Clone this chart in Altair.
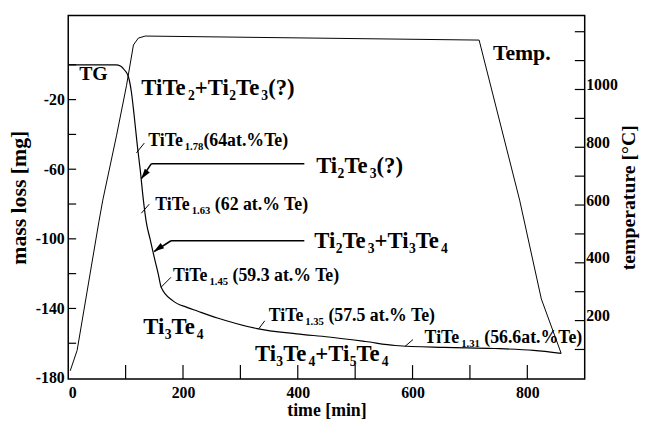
import re
import altair as alt
import pandas as pd

# ---------------- data ----------------
# TG curve: time [min] vs mass loss [mg]
tg_time = [0, 36, 83, 91, 98, 105, 110, 115, 120.5, 125.6, 131, 136, 143, 150, 157, 162,
           182, 208, 225, 260, 294, 329, 398, 454, 518, 570, 656, 742, 811, 859]
tg_mass = [0, 0, 0, -0.7, -3, -7, -15.5, -29.6, -46.7, -60.8, -77.9, -90.4, -100.6, -110.8,
           -120.4, -127.8, -135.5, -139.5, -141.5, -145.5, -148.8, -151.6, -154.6, -156.4, -159,
           -161.3, -162.4, -163, -164.1, -165.8]

# temperature programme: time [min] vs temperature [°C]
temp_time = [3.4, 15.5, 32.7, 53.4, 60.2, 84.3, 101.5, 113.6, 122.2, 134.3, 716, 786.6, 824.4, 858.9]
temp_val = [26, 97, 299, 542, 617, 842, 1013, 1154, 1178, 1185, 1171, 617, 275, 87]

# axis ticks / labels
x_labels = [0, 200, 400, 600, 800]
x_ticks = [100, 200, 300, 400, 500, 600, 700, 800]
m_labels = [-20, -60, -100, -140, -180]
m_ticks = [-160, -140, -120, -100, -80, -60, -40, -20, 0]
t_labels = [200, 400, 600, 800, 1000]
t_ticks = [100, 200, 300, 400, 500, 600, 700, 800, 900, 1000, 1100, 1200]

# annotations ({...} = subscript); anchor in (time, mass) data coordinates
ann_text = ["TG", "Temp.",
            "TiTe{2}+Ti{2}Te{3}(?)", "Ti{2}Te{3}(?)", "Ti{2}Te{3}+Ti{3}Te{4}",
            "Ti{3}Te{4}", "Ti{3}Te{4}+Ti{5}Te{4}",
            "TiTe{1.78}(64at.%Te)", "TiTe{1.63} (62 at.% Te)", "TiTe{1.45} (59.3 at.% Te)",
            "TiTe{1.35} (57.5 at.% Te)", "TiTe{1.31} (56.6at.%Te)"]
ann_time = [19, 740, 127.4, 432, 428.6, 130.8, 325.3, 139.4, 151.5, 182.4, 349.4, 621]
ann_mass = [-8.7, 2.7, -17.2, -62, -105.1, -154.5, -170.4, -46.7, -83.6, -124.4, -147.1, -160]
ann_size = [20, 22, 23, 23, 23, 23, 23, 18, 18, 18, 18, 18]

# pointer strokes (time, mass) -> (time2, mass2)
seg_t1 = [118.8, 127.4, 161.8, 332.2, 586.9, 411.4, 144.6, 411.4, 179.0]
seg_m1 = [-50.6, -85.3, -127.8, -151.6, -161.8, -56.9, -56.9, -101.1, -101.1]
seg_t2 = [132.5, 141.1, 179.0, 342.5, 600.7, 144.6, 127.4, 179.0, 149.7]
seg_m2 = [-45.0, -80.1, -122.1, -147.1, -157.9, -56.9, -65.4, -101.1, -107.4]
seg_w = [1, 1, 1, 1, 1, 1.6, 1.6, 1.6, 1.6]
# arrow heads
head_t = [132.5, 156.6]
head_m = [-63.2, -105.6]
head_angle = [216, 236]

# ---------------- styling ----------------
FONT = "Liberation Serif"
W, H = 523, 368

x_scale = alt.Scale(domain=[0, 900], nice=False, zero=False)
m_scale = alt.Scale(domain=[-180.5, 28.3], nice=False, zero=False)
t_scale = alt.Scale(domain=[-2, 1256], nice=False, zero=False)

common = dict(labelFont=FONT, labelFontWeight="bold", labelColor="black",
              titleFont=FONT, titleFontWeight="bold", titleColor="black",
              ticks=False, domain=False, grid=False, labelExpr="'' + datum.value")
x_axis = alt.Axis(values=x_labels, title="time [min]", labelFontSize=16, labelPadding=6,
                  titleFontSize=18, titlePadding=1, **common)
m_axis = alt.Axis(values=m_labels, title="mass loss [mg]", labelFontSize=16, labelPadding=4,
                  titleFontSize=22, titlePadding=5, **common)
t_axis = alt.Axis(values=t_labels, title="temperature [°C]", orient="right", labelFontSize=16,
                  labelPadding=1, labelOffset=-5, titleFontSize=20, titlePadding=1,
                  titleAngle=270, titleBaseline="top", **common)


def X(f):
    return alt.X(f"{f}:Q", scale=x_scale, axis=x_axis)


def YM(f):
    return alt.Y(f"{f}:Q", scale=m_scale, axis=m_axis)


def YT(f):
    return alt.Y(f"{f}:Q", scale=t_scale, axis=t_axis)


# Times-Bold advance widths (per 1000 em)
AFM = {' ': 250, '!': 333, '%': 1000, '(': 333, ')': 333, '+': 570, '-': 333, '.': 250,
       '?': 500, 'C': 722, 'G': 778, 'T': 667, 'a': 500, 'e': 444, 'i': 278, 't': 333,
       'm': 833, 'p': 556}


def text_w(s, size):
    return sum(AFM.get(c, 500) for c in s) * size / 1000.0


# ---------------- layers ----------------
mass_layers = []

tg_df = pd.DataFrame({"t": tg_time, "m": tg_mass})
mass_layers.append(alt.Chart(tg_df).mark_line(color="black", strokeWidth=1.2, interpolate="monotone")
                   .encode(x=X("t"), y=YM("m")))

seg_df = pd.DataFrame({"t": seg_t1, "m": seg_m1, "t2": seg_t2, "m2": seg_m2, "w": seg_w})
mass_layers.append(alt.Chart(seg_df).mark_rule(color="black").encode(
    x=X("t"), y=YM("m"), x2="t2:Q", y2="m2:Q",
    strokeWidth=alt.StrokeWidth("w:Q", scale=None)))

head_df = pd.DataFrame({"t": head_t, "m": head_m, "a": head_angle})
mass_layers.append(alt.Chart(head_df).mark_point(
    shape="M0,-1L0.6,1L-0.6,1Z", filled=True, color="black", size=110, opacity=1).encode(
    x=X("t"), y=YM("m"), angle=alt.Angle("a:Q", scale=None)))

# inward ticks
mass_layers.append(alt.Chart(pd.DataFrame({"t": x_ticks})).mark_rule(color="black", strokeWidth=1.2)
                   .encode(x=X("t"), y=alt.value(H), y2=alt.value(H - 14)))
mass_layers.append(alt.Chart(pd.DataFrame({"m": m_ticks})).mark_rule(color="black", strokeWidth=1.2)
                   .encode(y=YM("m"), x=alt.value(0), x2=alt.value(8)))

# annotations
for txt, t, m, f in zip(ann_text, ann_time, ann_mass, ann_size):
    off = 0.0
    for part in re.split(r"(\{[^}]*\})", txt):
        if not part:
            continue
        sub = part.startswith("{")
        s = part.strip("{}")
        size = f * 0.6 if sub else f
        dy = f * 0.22 if sub else 0
        lead = len(s) - len(s.lstrip(" "))
        off += text_w(" " * lead, size)
        s = s.lstrip(" ")
        mass_layers.append(
            alt.Chart(pd.DataFrame({"t": [t], "m": [m], "s": [s]}))
            .mark_text(align="left", baseline="alphabetic", dx=off, dy=dy, fontSize=size,
                       font=FONT, fontWeight="bold", color="black")
            .encode(x=X("t"), y=YM("m"), text="s:N"))
        off += text_w(s, size)

temp_layers = []
temp_df = pd.DataFrame({"t": temp_time, "T": temp_val})
temp_layers.append(alt.Chart(temp_df).mark_line(color="black", strokeWidth=1.0)
                   .encode(x=X("t"), y=YT("T")))
temp_layers.append(alt.Chart(pd.DataFrame({"T": t_ticks})).mark_rule(color="black", strokeWidth=1.2)
                   .encode(y=YT("T"), x=alt.value(W - 10), x2=alt.value(W)))

chart = alt.layer(alt.layer(*mass_layers), alt.layer(*temp_layers)).resolve_scale(
    y="independent").properties(
    width=W, height=H,
    autosize=alt.AutoSizeParams(type="none"),
    padding={"left": 61, "top": 5, "right": 56, "bottom": 43},
).configure(background="white").configure_view(stroke="black", strokeWidth=1.5)

chart.save("out.html", embed_options={"renderer": "svg", "actions": False})
